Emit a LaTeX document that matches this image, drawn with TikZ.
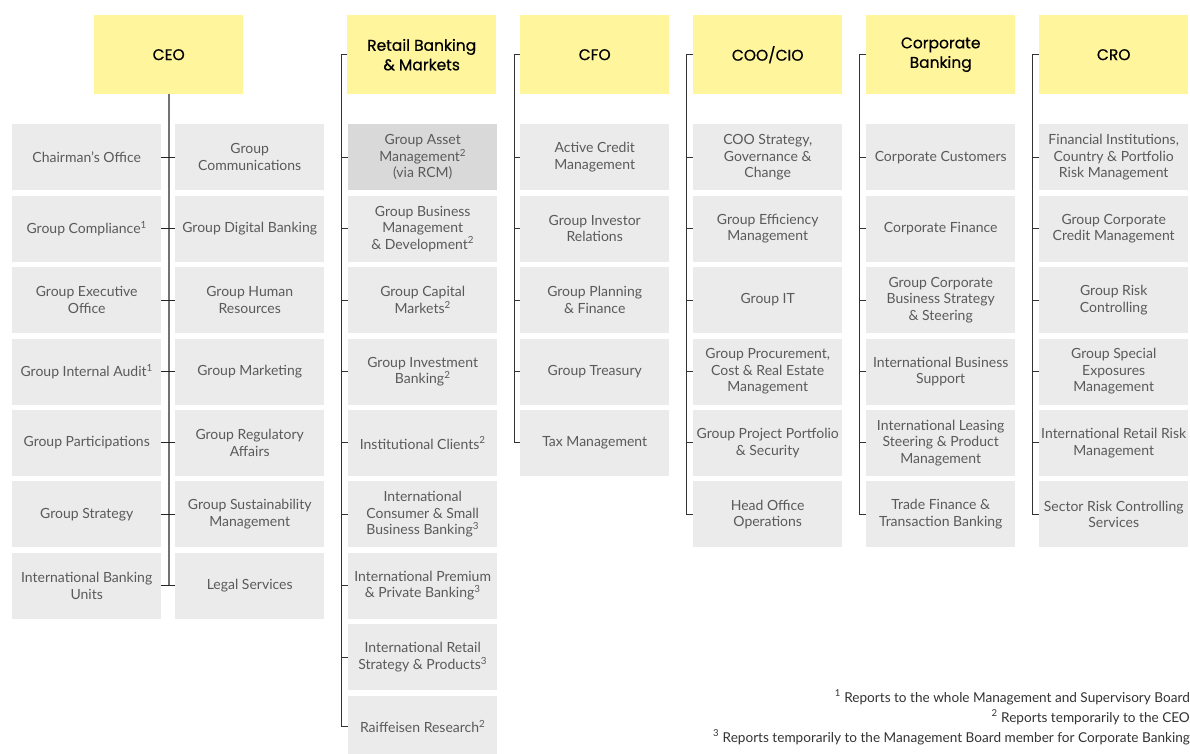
\documentclass[tikz,border=0pt]{standalone}
\usepackage{fontspec}
\setmainfont{Lato}
\newfontfamily\headfont{Poppins}[UprightFeatures={FakeBold=0.6}]
\definecolor{hdr}{HTML}{FFF59D}
\definecolor{boxc}{HTML}{EBEBEB}
\definecolor{boxdark}{HTML}{D9D9D9}
\definecolor{txt}{HTML}{5A5A5A}
\tikzset{
 hbox/.style={fill=hdr, minimum width=149pt, minimum height=79pt, anchor=north west, inner sep=0pt, align=center, font=\headfont\fontsize{15.5}{19.5}\selectfont, text=black},
 ubox/.style={fill=boxc, minimum width=149pt, minimum height=66pt, anchor=north west, inner sep=0pt, align=center, font=\fontsize{14}{16.5}\selectfont, text=txt},
 brk/.style={draw=black!80, line width=1pt},
 ceoline/.style={draw=black!55, line width=2pt},
 tickln/.style={draw=black!85, line width=1pt},
 fnote/.style={anchor=base east, inner sep=0pt, font=\fontsize{13.6}{15}\selectfont, text=black!80}
}
\begin{document}
\begin{tikzpicture}[x=1pt,y=-1pt]
\useasboundingbox (0,0) rectangle (1190,753);
% headers
\node[hbox] (ceo) at (94,15) {CEO};
\node[hbox] (rbm) at (347,15) {Retail Banking\\\& Markets};
\node[hbox] (cfo) at (520,15) {CFO};
\node[hbox] (coo) at (693,15) {COO/CIO};
\node[hbox] (cb)  at (866,15) {Corporate\\Banking};
\node[hbox] (cro) at (1039,15) {CRO};
% CEO columns
\node[ubox] (cl1) at (12,124)   {Chairman's Office};
\node[ubox] (cl2) at (12,195.4) {Group Compliance\textsuperscript{1}};
\node[ubox] (cl3) at (12,266.9) {Group Executive\\Office};
\node[ubox] (cl4) at (12,338.3) {Group Internal Audit\textsuperscript{1}};
\node[ubox] (cl5) at (12,409.7) {Group Participations};
\node[ubox] (cl6) at (12,481.1) {Group Strategy};
\node[ubox] (cl7) at (12,552.6) {International Banking\\Units};
\node[ubox] (cr1) at (175,124)   {Group\\Communications};
\node[ubox] (cr2) at (175,195.4) {Group Digital Banking};
\node[ubox] (cr3) at (175,266.9) {Group Human\\Resources};
\node[ubox] (cr4) at (175,338.3) {Group Marketing};
\node[ubox] (cr5) at (175,409.7) {Group Regulatory\\Affairs};
\node[ubox] (cr6) at (175,481.1) {Group Sustainability\\Management};
\node[ubox] (cr7) at (175,552.6) {Legal Services};
\draw[ceoline] (ceo.south) -- (ceo.south |- cl7.east);
\foreach \i in {1,...,7} { \draw[tickln] (cl\i.east) -- (cr\i.west); }
% Retail
\node[ubox, fill=boxdark] (r1) at (348,124) {Group Asset\\Management\textsuperscript{2}\\(via RCM)};
\node[ubox] (r2) at (348,195.4) {Group Business\\Management\\\& Development\textsuperscript{2}};
\node[ubox] (r3) at (348,266.9) {Group Capital\\Markets\textsuperscript{2}};
\node[ubox] (r4) at (348,338.3) {Group Investment\\Banking\textsuperscript{2}};
\node[ubox] (r5) at (348,409.7) {Institutional Clients\textsuperscript{2}};
\node[ubox] (r6) at (348,481.1) {International\\Consumer \& Small\\Business Banking\textsuperscript{3}};
\node[ubox] (r7) at (348,552.6) {International Premium\\\& Private Banking\textsuperscript{3}};
\node[ubox] (r8) at (348,624)   {International Retail\\Strategy \& Products\textsuperscript{3}};
\node[ubox, minimum height=62pt] (r9) at (348,695.4) {Raiffeisen Research\textsuperscript{2}};
\draw[brk] (rbm.west) -- ([xshift=-6pt]rbm.west) |- (r9.west);
\foreach \i in {1,...,8} { \draw[brk] (r\i.west) -- ++(-7,0); }
% CFO
\node[ubox] (f1) at (520,124)   {Active Credit\\Management};
\node[ubox] (f2) at (520,195.4) {Group Investor\\Relations};
\node[ubox] (f3) at (520,266.9) {Group Planning\\\& Finance};
\node[ubox] (f4) at (520,338.3) {Group Treasury};
\node[ubox] (f5) at (520,409.7) {Tax Management};
\draw[brk] (cfo.west) -- ([xshift=-6pt]cfo.west) |- (f5.west);
\foreach \i in {1,...,4} { \draw[brk] (f\i.west) -- ++(-6,0); }
% COO
\node[ubox] (o1) at (693,124)   {COO Strategy,\\Governance \&\\Change};
\node[ubox] (o2) at (693,195.4) {Group Efficiency\\Management};
\node[ubox] (o3) at (693,266.9) {Group IT};
\node[ubox] (o4) at (693,338.3) {Group Procurement,\\Cost \& Real Estate\\Management};
\node[ubox] (o5) at (693,409.7) {Group Project Portfolio\\\& Security};
\node[ubox] (o6) at (693,481.1) {Head Office\\Operations};
\draw[brk] (coo.west) -- ([xshift=-7pt]coo.west) |- (o6.west);
\foreach \i in {1,...,5} { \draw[brk] (o\i.west) -- ++(-7,0); }
% Corporate Banking
\node[ubox] (k1) at (866,124)   {Corporate Customers};
\node[ubox] (k2) at (866,195.4) {Corporate Finance};
\node[ubox] (k3) at (866,266.9) {Group Corporate\\Business Strategy\\\& Steering};
\node[ubox] (k4) at (866,338.3) {International Business\\Support};
\node[ubox] (k5) at (866,409.7) {International Leasing\\Steering \& Product\\Management};
\node[ubox] (k6) at (866,481.1) {Trade Finance \&\\Transaction Banking};
\draw[brk] (cb.west) -- ([xshift=-7pt]cb.west) |- (k6.west);
\foreach \i in {1,...,5} { \draw[brk] (k\i.west) -- ++(-7,0); }
% CRO
\node[ubox] (x1) at (1039,124)   {Financial Institutions,\\Country \& Portfolio\\Risk Management};
\node[ubox] (x2) at (1039,195.4) {Group Corporate\\Credit Management};
\node[ubox] (x3) at (1039,266.9) {Group Risk\\Controlling};
\node[ubox] (x4) at (1039,338.3) {Group Special\\Exposures\\Management};
\node[ubox] (x5) at (1039,409.7) {International Retail Risk\\Management};
\node[ubox] (x6) at (1039,481.1) {Sector Risk Controlling\\Services};
\draw[brk] (cro.west) -- ([xshift=-7pt]cro.west) |- (x6.west);
\foreach \i in {1,...,5} { \draw[brk] (x\i.west) -- ++(-7,0); }
% footnotes
\node[fnote] (fn1) at (1190,702) {\textsuperscript{1} Reports to the whole Management and Supervisory Board};
\node[fnote] (fn2) at (1190,722) {\textsuperscript{2} Reports temporarily to the CEO};
\node[fnote] (fn3) at (1190,742) {\textsuperscript{3} Reports temporarily to the Management Board member for Corporate Banking};
\end{tikzpicture}
\end{document}
